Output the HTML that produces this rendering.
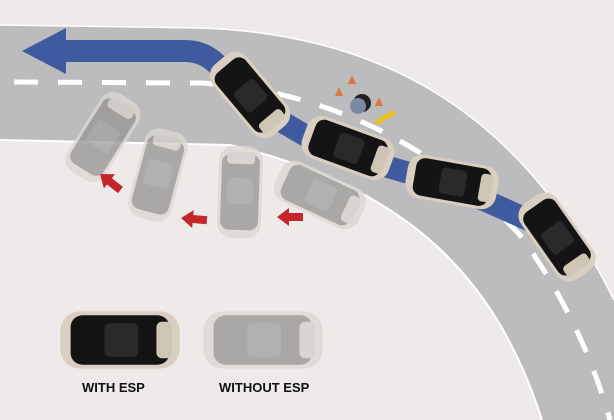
<!DOCTYPE html>
<html><head><meta charset="utf-8"><style>
html,body{margin:0;padding:0;background:#eeeaea;}
svg{display:block}
text{font-family:"Liberation Sans",sans-serif;font-weight:bold;font-size:13px;fill:#111}
</style></head><body>
<svg width="614" height="420" viewBox="0 0 614 420" xmlns="http://www.w3.org/2000/svg">
<defs>
<g id="car">
<rect x="-46" y="-22" width="92" height="44" rx="15" fill="#d9cfc0"/>
<rect x="-38" y="-19" width="76" height="38" rx="9" fill="#141414"/>
<rect x="-12" y="-13" width="26" height="26" rx="4" fill="#2a2a2a"/>
<rect x="28" y="-14" width="12" height="28" rx="4" fill="#cfc5b5"/>
</g>
<g id="ghost" opacity="0.8">
<rect x="-46" y="-22" width="92" height="44" rx="15" fill="#dcd8d3"/>
<rect x="-38" y="-19" width="76" height="38" rx="9" fill="#9a9897"/>
<rect x="-12" y="-13" width="26" height="26" rx="4" fill="#a5a3a2"/>
<rect x="28" y="-14" width="12" height="28" rx="4" fill="#d4cfc9"/>
</g>
<g id="rarrow"><path d="M0,0 L12,-9 L12,-4 L26,-4 L26,4 L12,4 L12,9 Z" fill="#c3262b"/></g>
</defs>
<rect width="614" height="420" fill="#eeeaea"/>
<path d="M0,25 L200,28 C380,34 520,110 614,300 L614,420 L542,420 C500,290 420,190 230,145 L0,140 Z" fill="#bcbcbe"/>
<path d="M0,140 L230,145 C420,190 500,290 542,420" fill="none" stroke="#fff" stroke-width="2"/>
<path d="M0,25 L200,28 C380,34 520,110 614,300" fill="none" stroke="#fff" stroke-width="1.5"/>
<path d="M14,82 L200,83 C330,90 440,150 520,235 C560,290 590,350 610,420" fill="none" stroke="#fff" stroke-width="5" stroke-dasharray="24,20"/>
<path d="M60,51 L185,51 C215,51 225,75 245,100 L330,150 L450,185 L540,225" fill="none" stroke="#3f5a9e" stroke-width="22"/>
<path d="M22,51 L66,28 L66,74 Z" fill="#3f5a9e"/>
<circle cx="362" cy="103" r="9" fill="#222"/>
<circle cx="358" cy="106" r="8" fill="#7a8aa0"/>
<path d="M335,96 l4,-9 l4,9z M348,84 l4,-9 l4,9z M375,106 l4,-9 l4,9z" fill="#d9763a"/>
<rect x="374" y="115" width="22" height="5" fill="#e8c21e" transform="rotate(-30 385 117)"/>
<use href="#ghost" transform="translate(103,137) rotate(-58)"/>
<use href="#ghost" transform="translate(158,175) rotate(-75)"/>
<use href="#ghost" transform="translate(240,192) rotate(-88)"/>
<use href="#ghost" transform="translate(320,195) rotate(25)"/>
<use href="#car" transform="translate(250,95) rotate(50)"/>
<use href="#car" transform="translate(348,148) rotate(20)"/>
<use href="#car" transform="translate(452,182) rotate(10)"/>
<use href="#car" transform="translate(557,237) rotate(55)"/>
<use href="#rarrow" transform="translate(100,174) rotate(38)"/>
<use href="#rarrow" transform="translate(181,218) rotate(5)"/>
<use href="#rarrow" transform="translate(277,217)"/>
<use href="#car" transform="translate(120,340) scale(1.3)"/>
<use href="#ghost" transform="translate(263,340) scale(1.3)"/>
<text x="82" y="392">WITH ESP</text>
<text x="219" y="392">WITHOUT ESP</text>
</svg>
</body></html>
